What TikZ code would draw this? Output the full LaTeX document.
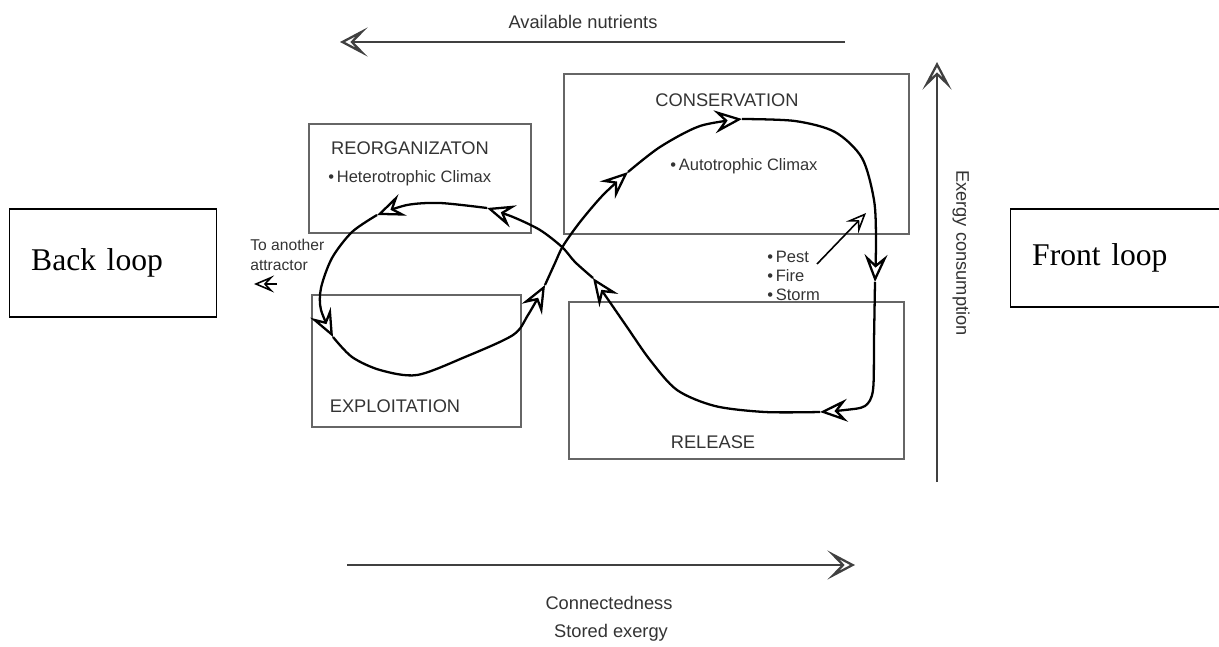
\documentclass[tikz,border=0pt]{standalone}
\usepackage{fontspec}
\setmainfont{Liberation Serif}
\setsansfont{Liberation Sans}
\usetikzlibrary{arrows.meta}

\begin{document}
\begin{tikzpicture}[x=0.02cm, y=-0.02cm,
    stage/.style={draw=black!60, line width=0.7pt},
    title/.style={font=\sffamily\fontsize{10.4}{12}\selectfont, text=black!80, inner sep=0},
    note/.style={font=\sffamily\fontsize{9.4}{11}\selectfont, text=black!80, inner sep=0, align=left},
    loopbox/.style={draw, line width=0.8pt, font=\fontsize{18}{21}\selectfont, align=left, inner xsep=0.43cm, anchor=west},
    loopline/.style={line width=1.3pt, -{Stealth[length=5.5mm, width=4.6mm, inset=2mm, fill=white]}},
    axisarrow/.style={draw=black!75, line width=0.7pt, -{Stealth[length=5.5mm, width=5.8mm, inset=2.8mm, fill=white, line width=1.3pt]}},
    hazard/.style={line width=0.9pt, -{Stealth[length=4mm, width=3.4mm, inset=1.6mm, fill=white]}},
  ]
  \useasboundingbox (0,0) rectangle (1219,646);

  % Four stage boxes
  \foreach \xa/\ya/\xb/\yb in {309/124/531/233, 312/295/521/427, 564/74/909/234, 569/302/904/459}
    \draw[stage] (\xa,\ya) rectangle (\xb,\yb);

  % Stage titles
  \foreach \px/\py/\name in {410/148/REORGANIZATON, 395/406/EXPLOITATION, 727/100/CONSERVATION, 713/442/RELEASE}
    \node[title] (t\name) at (\px,\py) {\name};

  \node[note, anchor=west] (hetero) at (328,178) {•\,Heterotrophic Climax};
  \node[note, anchor=west] (auto) at (670,166) {•\,Autotrophic Climax};
  \node[note, anchor=west] (hazards) at (767,276) {•\,Pest\\•\,Fire\\•\,Storm};
  \node[note, anchor=west, font=\sffamily\fontsize{8.9}{11.3}\selectfont] (attract) at (250,255) {To another\\attractor};

  % Back and front loop labels
  \node[loopbox, text width=3.28cm, minimum height=2.16cm] (back) at (9,263) {Back loop};
  \node[loopbox, text width=3.6cm, minimum height=1.96cm] (front) at (1010,258) {Front loop};

  % Axes
  \coordinate (nutR) at (845,42);  \coordinate (nutL) at (340,42);
  \coordinate (conL) at (347,565); \coordinate (conR) at (855,565);
  \coordinate (exB) at (937,482);  \coordinate (exT) at (937,62);
  \draw[axisarrow] (nutR) -- (nutL);
  \draw[axisarrow] (conL) -- (conR);
  \draw[axisarrow] (exB) -- (exT);
  \node[title] (nut) at (583,22) {Available nutrients};
  \node[title] (conn) at (609,603) {Connectedness};
  \node[title] (stored) at (611,633) {Stored exergy};
  \node[title, rotate=-90] (exergy) at (961,253) {Exergy consumption};

  % Arrow points of the cycle
  \foreach \n/\x/\y in {k1/333/337, k2/545/285, k3/628/172, k4/742/119, k5/875/282,
                        k6/820/412, k7/593/278, k8/487/208, k9/377/215}
    \coordinate (\n) at (\x,\y);

  \draw[loopline] plot[smooth] coordinates {(k1) (352,357) (380,370) (417,375) (465,357) (513,335) (528,315) (k2)};
  \draw[loopline] plot[smooth] coordinates {(k2) (555,263) (563,246) (580,222) (603,195) (k3)};
  \draw[loopline] plot[smooth] coordinates {(k3) (660,147) (700,126) (k4)};
  \draw[loopline] plot[smooth] coordinates {(k4) (795,121) (835,132) (862,158) (874,200) (876,240) (k5)};
  \draw[loopline] plot[smooth] coordinates {(k5) (874,340) (873,390) (865,406) (845,410) (k6)};
  \draw[loopline] plot[smooth] coordinates {(k6) (765,412) (715,406) (677,390) (650,360) (627,327) (607,298) (k7)};
  \draw[loopline] plot[smooth] coordinates {(k7) (575,262) (562,247) (540,230) (513,217) (k8)};
  \draw[loopline] plot[smooth] coordinates {(k8) (440,203) (407,205) (k9)};
  \draw[loopline] plot[smooth] coordinates {(k9) (352,232) (332,258) (321,288) (321,310) (k1)};

  % Disturbances and exit
  \coordinate (hz) at (817,264);   \coordinate (hzend) at (866,213);
  \coordinate (out1) at (277,284); \coordinate (out2) at (254,284);
  \draw[hazard] (hz) -- (hzend);
  \draw[hazard] (out1) -- (out2);
\end{tikzpicture}
\end{document}
